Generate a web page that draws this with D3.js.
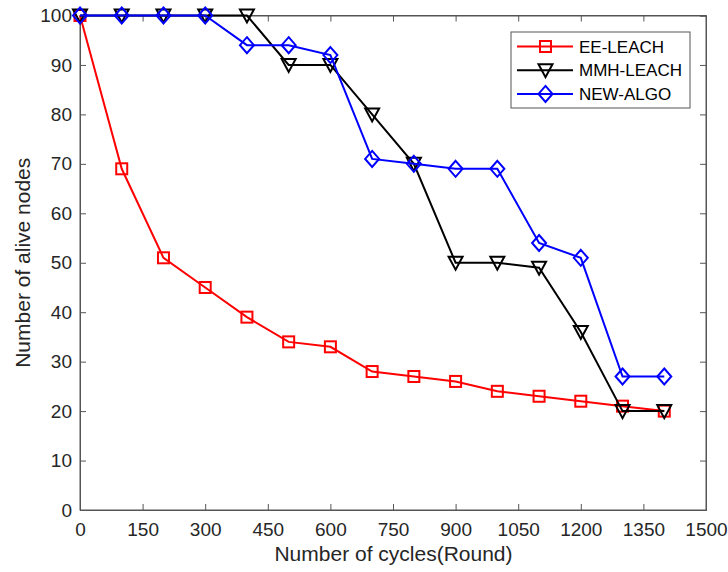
<!DOCTYPE html>
<html><head><meta charset="utf-8">
<script src="https://cdn.jsdelivr.net/npm/d3@7"></script>
<style>body{margin:0;background:#fff}svg{display:block}text{font-family:"Liberation Sans",Arial,sans-serif}</style>
</head><body><svg id="c" width="728" height="572"></svg>
<script>
const rounds = [0,100,200,300,400,500,600,700,800,900,1000,1100,1200,1300,1400];
const eeLeach = [100,69,51,45,39,34,33,28,27,26,24,23,22,21,20];
const mmhLeach = [100,100,100,100,100,90,90,80,70,50,50,49,36,20,20];
const newAlgo = [100,100,100,100,94,94,92,71,70,69,69,54,51,27,27];
const xTicks = [0,150,300,450,600,750,900,1050,1200,1350,1500];
const yTicks = [0,10,20,30,40,50,60,70,80,90,100];
const seriesNames = ["EE-LEACH","MMH-LEACH","NEW-ALGO"];
const seriesColors = ["#ff0000","#000000","#0000ff"];
const seriesMarkers = ["square","triangle","diamond"];
const seriesData = [eeLeach, mmhLeach, newAlgo];

const svg = d3.select("#c");
const L=80,R=706,T=15.5,B=510;
const x = d3.scaleLinear().domain([0,1500]).range([L,R]);
const y = d3.scaleLinear().domain([0,100]).range([B,T]);
const axCol="#555";
const txtCol="#262626";

svg.append("rect").attr("x",L).attr("y",T).attr("width",R-L).attr("height",B-T).attr("fill","none").attr("stroke",axCol).attr("stroke-width",1);

const gx = svg.append("g").attr("transform",`translate(0,${B})`).call(d3.axisBottom(x).tickValues(xTicks).tickSize(-6).tickPadding(13).tickFormat(d3.format("d")));
const gxt = svg.append("g").attr("transform",`translate(0,${T})`).call(d3.axisTop(x).tickValues(xTicks).tickSize(-6).tickFormat(""));
const gy = svg.append("g").attr("transform",`translate(${L},0)`).call(d3.axisLeft(y).tickValues(yTicks).tickSize(-6).tickPadding(8));
const gyr = svg.append("g").attr("transform",`translate(${R},0)`).call(d3.axisRight(y).tickValues(yTicks).tickSize(-6).tickFormat(""));
[gx,gxt,gy,gyr].forEach(g=>{
  g.selectAll(".domain").attr("stroke",axCol);
  g.selectAll(".tick line").attr("stroke",axCol);
  g.selectAll("text").attr("fill",txtCol).style("font-size","19px").style("font-family","'Liberation Sans',Arial,sans-serif");
});

function drawMarker(g, type, cx, cy, color){
  if(type==="square"){
    g.append("rect").attr("x",cx-5.5).attr("y",cy-5.5).attr("width",11).attr("height",11).attr("fill","none").attr("stroke",color).attr("stroke-width",2);
  } else if(type==="triangle"){
    g.append("path").attr("d",`M${cx-7},${cy-6}L${cx+7},${cy-6}L${cx},${cy+7}Z`).attr("fill","none").attr("stroke",color).attr("stroke-width",2);
  } else {
    g.append("path").attr("d",`M${cx},${cy-8}L${cx+7},${cy}L${cx},${cy+8}L${cx-7},${cy}Z`).attr("fill","none").attr("stroke",color).attr("stroke-width",2);
  }
}

const line = d3.line().x((d,i)=>x(rounds[i])).y(d=>y(d));
seriesData.forEach((s,k)=>{
  const g = svg.append("g");
  g.append("path").datum(s).attr("d",line).attr("fill","none").attr("stroke",seriesColors[k]).attr("stroke-width",2);
  s.forEach((v,i)=>drawMarker(g, seriesMarkers[k], x(rounds[i]), y(v), seriesColors[k]));
});

const lg = svg.append("g");
lg.append("rect").attr("x",511).attr("y",32).attr("width",179).attr("height",76).attr("fill","#fff").attr("stroke",axCol).attr("stroke-width",1);
seriesNames.forEach((n,k)=>{
  const yy = 46.5 + k*23.7;
  lg.append("line").attr("x1",517).attr("x2",573).attr("y1",yy).attr("y2",yy).attr("stroke",seriesColors[k]).attr("stroke-width",2);
  drawMarker(lg, seriesMarkers[k], 545.5, yy, seriesColors[k]);
  lg.append("text").attr("x",579).attr("y",yy+6).text(n).attr("fill","#000").style("font-size","17px");
});

svg.append("text").attr("x",(L+R)/2+0.5).attr("y",561).attr("text-anchor","middle").attr("fill",txtCol).style("font-size","21px").text("Number of cycles(Round)");
svg.append("text").attr("transform",`translate(30,${(T+B)/2}) rotate(-90)`).attr("text-anchor","middle").attr("fill",txtCol).style("font-size","21px").text("Number of alive nodes");
</script></body></html>
